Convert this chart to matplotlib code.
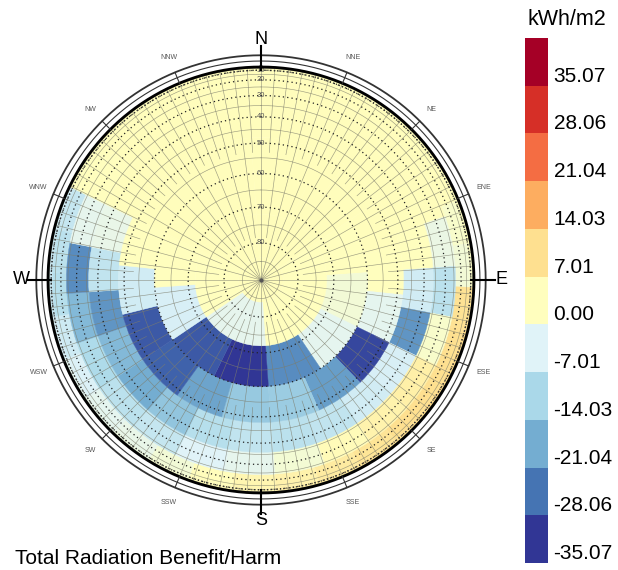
import numpy as np
import matplotlib.pyplot as plt
from matplotlib.colors import Normalize, ListedColormap, BoundaryNorm
from matplotlib.cm import ScalarMappable

plt.rcParams['font.family'] = ['Liberation Sans', 'DejaVu Sans']

# sky patches (Tregenza type): altitude edges of each band and patches per band
band_edges = [0, 12, 24, 36, 48, 60, 72, 84, 90]
band_counts = [30, 30, 24, 24, 18, 12, 6, 1]
start_az = -4  # first patch of every band starts here, going clockwise from N

# radiation benefit/harm per patch (kWh/m2)
band0 = [0.5, 0.5, 0.5, 0.5, 0.5, 0.0, -0.5, -1.0, 6.5, 7.5,
         7.5, 7.0, 6.5, 5.0, 3.5, 2.0, 1.0, -2.0, -4.0, -5.0,
         -6.0, -8.0, -10.0, -10.0, -9.0, 0.0, 0.5, 0.5, 0.5, 0.5]
band1 = [0.5, 0.5, 0.5, 0.5, 0.5, 0.5, -1.5, -3.0, 6.5, 7.0,
         7.0, 7.0, 6.0, 4.5, 3.0, 2.0, 0.5, -3.0, -5.0, -6.0,
         -7.5, -9.5, -12.5, -12.0, -10.5, 0.0, 0.5, 0.5, 0.5, 0.5]
band2 = [0.5, 0.5, 0.5, 0.5, 0.5, -4.5, -12.0, -1.5, 3.5, 2.5,
         1.0, -2.5, -5.5, -7.0, -10.5, -12.0, -13.5, -19.0, -25.0, -5.5,
         0.0, 0.5, 0.5, 0.5]
band3 = [0.5, 0.5, 0.5, 0.5, 0.5, 0.0, -9.0, -24.0, -8.0, -9.0,
         -11.0, -12.0, -11.0, -12.5, -17.0, -21.0, -19.0, -24.0, -11.0, -5.0,
         0.5, 0.5, 0.5, 0.5]
band4 = [0.5, 0.5, 0.5, 0.5, 0.0, -6.0, -33.0, -23.0, -16.0, -16.5,
         -22.0, -30.0, -31.0, -9.0, 0.0, 0.5, 0.5, 0.5]
band5 = [0.5, 0.5, 0.0, -3.0, -6.0, -25.0, -35.0, -31.0, -8.0, 0.0, 0.5, 0.5]
band6 = [0.5, 0.0, 0.0, -5.5, 0.0, 0.5]
band7 = [0.5]
bands = [band0, band1, band2, band3, band4, band5, band6, band7]

legend_values = [-35.07, -28.06, -21.04, -14.03, -7.01, 0.00,
                 7.01, 14.03, 21.04, 28.06, 35.07]
legend_top = 42.08

directions = ['N', 'NNE', 'NE', 'ENE', 'E', 'ESE', 'SE', 'SSE',
              'S', 'SSW', 'SW', 'WSW', 'W', 'WNW', 'NW', 'NNW']
alt_labels = [10, 20, 30, 40, 50, 60, 70, 80]

cmap = plt.get_cmap('RdYlBu_r')
norm = Normalize(vmin=-35.07, vmax=35.07)

fig = plt.figure(figsize=(6.18, 5.70), dpi=100)
ax = fig.add_axes([0.0087, 0.0604, 0.8272, 0.8968], projection='polar')
ax.set_theta_zero_location('N')
ax.set_theta_direction(-1)

# --- coloured sky patches (orthographic projection: r = cos(altitude))
for i, vals in enumerate(bands):
    n = band_counts[i]
    r_in = np.cos(np.radians(band_edges[i + 1]))
    r_out = np.cos(np.radians(band_edges[i]))
    colors = [cmap(norm(v)) for v in vals]
    if n == 1:
        ax.bar(0, r_out, width=2 * np.pi, bottom=0, color=colors,
               edgecolor='none', zorder=1)
        continue
    w = 360.0 / n
    centers = np.radians(start_az + w / 2 + w * np.arange(n))
    ax.bar(centers, r_out - r_in, width=np.radians(w), bottom=r_in,
           color=colors, edgecolor=colors, linewidth=0.3, zorder=1)

th = np.linspace(0, 2 * np.pi, 721)
grid_col = '#7d7d6c'

# fine solid grid
for a in list(range(5, 90, 10)) + [3, 6]:
    ax.plot(th, np.full_like(th, np.cos(np.radians(a))), color=grid_col,
            lw=0.45, alpha=0.75, zorder=2)
for az in np.arange(0, 360, 3.75):
    if az % 15 == 0:
        r0 = 0.0
    elif az % 7.5 == 0:
        r0 = 0.2
    else:
        r0 = 0.6
    ax.plot([np.radians(az)] * 2, [r0, 1.0], color=grid_col, lw=0.45,
            alpha=0.75, zorder=2)

# dotted altitude circles with labels
for a in alt_labels:
    r = np.cos(np.radians(a))
    ax.plot(th, np.full_like(th, r), color='#222222', lw=0.9,
            ls=(0, (1, 2.5)), zorder=3)
    ax.text(0, r, str(a), fontsize=5.5, color='#555555', ha='center',
            va='center', zorder=4)
ax.plot(th, np.full_like(th, 0.985), color='#333333', lw=1.0,
        ls=(0, (0.8, 1.5)), zorder=3)
ax.scatter([0], [0], s=4, color='#555555', zorder=4)

# horizon and compass ring
ax.plot(th, np.ones_like(th), color='black', lw=2.0, zorder=5)
ax.plot(th, np.full_like(th, 1.028), color='#333333', lw=0.8, zorder=5)
ax.plot(th, np.full_like(th, 1.055), color='#333333', lw=1.3, zorder=5)

for k, d in enumerate(directions):
    t = np.radians(22.5 * k)
    if len(d) == 1:
        ax.plot([t, t], [0.985, 1.10], color='black', lw=1.5, zorder=6)
        ax.text(t, 1.127, d, fontsize=13, ha='center', va='center')
    else:
        ax.plot([t, t], [1.0, 1.055], color='#333333', lw=0.8, zorder=6)
        ax.text(t, 1.13, d, fontsize=5, color='#555555', ha='center',
                va='center')

ax.set_ylim(0, 1.2)
ax.set_xticks([])
ax.set_yticks([])
ax.grid(False)
ax.spines['polar'].set_visible(False)
ax.patch.set_alpha(0)

# --- legend
cax = fig.add_axes([0.8495, 0.0123, 0.0372, 0.921])
seg_colors = ListedColormap([cmap(norm(v)) for v in legend_values])
bounds = legend_values + [legend_top]
cb = fig.colorbar(ScalarMappable(norm=BoundaryNorm(bounds, len(legend_values)),
                                 cmap=seg_colors), cax=cax)
cb.outline.set_visible(False)
cb.set_ticks(legend_values)
cb.set_ticklabels(['%.2f' % v for v in legend_values])
cax.minorticks_off()
cax.tick_params(length=0, pad=4, labelsize=15)
for lab in cax.get_yticklabels():
    lab.set_va('bottom')
fig.text(0.853, 0.965, 'kWh/m2', fontsize=15.5, va='center', ha='left')

fig.text(0.024, 0.004, 'Total Radiation Benefit/Harm', fontsize=15,
         va='bottom', ha='left')

fig.savefig('out.png', dpi=100)
